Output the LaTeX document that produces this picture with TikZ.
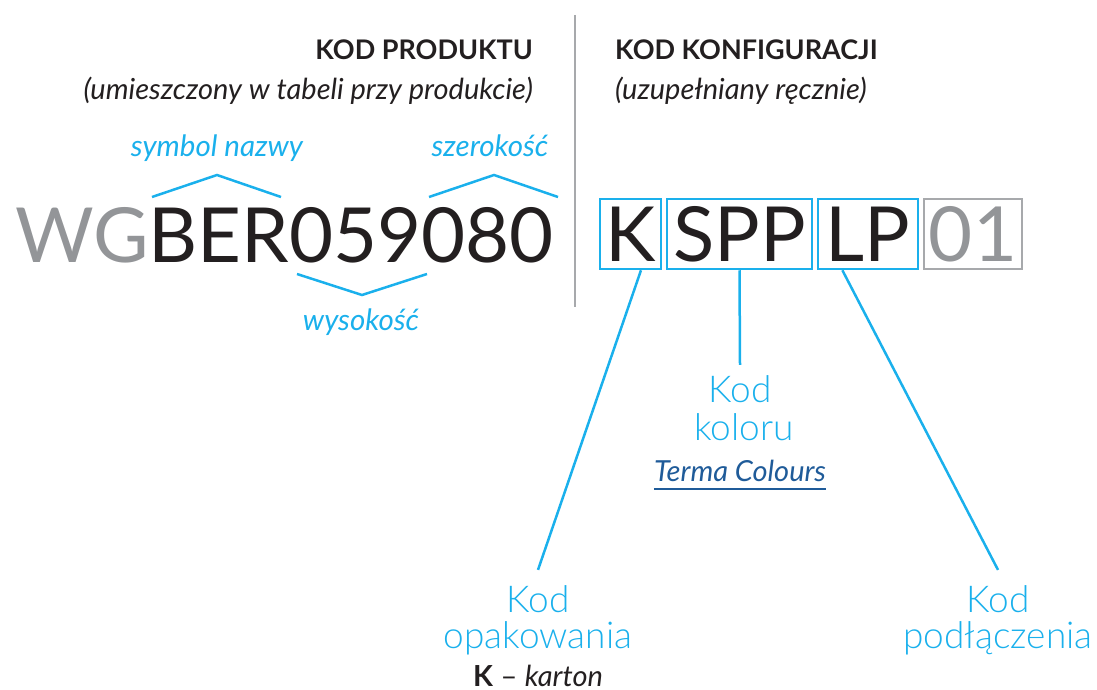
\documentclass[tikz,border=0pt]{standalone}
\usepackage{fontspec}
\usetikzlibrary{calc}
\setmainfont{Lato}
\newfontfamily\lightfont{Lato Light}
\definecolor{cyanb}{HTML}{1AB0EC}
\definecolor{grayt}{HTML}{939598}
\definecolor{blackt}{HTML}{231F20}
\definecolor{navyt}{HTML}{1F5B99}
\definecolor{divider}{HTML}{A7A9AC}
\begin{document}
\begin{tikzpicture}[x=1pt,y=-1pt,
  head/.style={font=\fontsize{27}{32}\selectfont\bfseries, text=blackt, inner sep=0},
  sub/.style={font=\fontsize{29}{34}\selectfont\itshape, text=blackt, inner sep=0},
  tag/.style={font=\fontsize{29.5}{34}\selectfont\itshape, text=cyanb, inner sep=0},
  big/.style={font=\fontsize{76}{80}\selectfont, text=blackt, inner sep=0},
  cbox/.style={draw=cyanb, line width=2.5pt, inner sep=0, minimum height=70},
  gbox/.style={draw=divider, line width=2.5pt, inner sep=0, minimum height=70, text=grayt},
  conn/.style={draw=cyanb, line width=2.5pt},
  brace/.style={draw=cyanb, line width=2.5pt},
  lbl/.style={font=\lightfont\fontsize{37}{40}\selectfont, text=cyanb, inner sep=0},
  note/.style={font=\fontsize{29}{32}\selectfont, text=blackt, inner sep=0}]
\useasboundingbox (0,0) rectangle (1097,690);
% divider
\draw[divider, line width=2.5pt] (575,15) -- (575,307);
% headings
\node[head, anchor=base east] (hp) at (533,60) {KOD PRODUKTU};
\node[sub, anchor=base east] (sp) at (533,100) {(umieszczony w tabeli przy produkcie)};
\node[head, anchor=base west] (hk) at (615,60) {KOD KONFIGURACJI};
\node[sub, anchor=base west] (sk) at (615,100) {(uzupełniany ręcznie)};
% tags
\node[tag, anchor=base] (t1) at (217,157) {symbol nazwy};
\node[tag, anchor=base] (t2) at (490,157) {szerokość};
\node[tag, anchor=base] (t3) at (361,330) {wysokość};
% brackets
\draw[brace] (152,197) -- (217,175) -- (281,197);
\draw[brace] (429,197) -- (494,175) -- (558,197);
\draw[brace] (297,274) -- (362,295) -- (427,274);
% product code
\node[big, anchor=base west] (pcode) at (15,262) {\textcolor{grayt}{WG}BER059080};
% configuration boxes
\node[big, cbox, minimum width=61] (kbox) at (630.5,234) {K};
\node[big, cbox, minimum width=145] (sbox) at (739.5,234) {SPP};
\node[big, cbox, minimum width=100] (lbox) at (868,234) {LP};
\node[big, gbox, minimum width=98] (nbox) at (973,234) {01};
% labels
\node[lbl, anchor=base] (op1) at (538,612) {Kod};
\node[lbl, anchor=base] (op2) at (538,648) {opakowania};
\node[note, anchor=base] (kk) at (538,686) {\textbf{K} -- \textit{karton}};
\node[lbl, anchor=base] (ko1) at (740,402) {Kod};
\node[lbl, anchor=base] (ko2) at (744,440) {koloru};
\node[note, anchor=base, text=navyt] (tc) at (740,481) {\textit{Terma Colours}};
\draw[navyt, line width=1.5pt] ([yshift=-8pt]tc.base west) -- ([yshift=-8pt]tc.base east);
\node[lbl, anchor=base] (po1) at (998,612) {Kod};
\node[lbl, anchor=base] (po2) at (998,648) {podłączenia};
% connectors
\draw[conn] ($(kbox.south)!0.33!(kbox.south east)$) -- ([yshift=15pt]op1.north);
\draw[conn] (sbox.south) -- ([yshift=10pt]ko1.north);
\draw[conn] ($(lbox.south west)!0.25!(lbox.south east)$) -- ([yshift=15pt]po1.north);
\end{tikzpicture}
\end{document}
